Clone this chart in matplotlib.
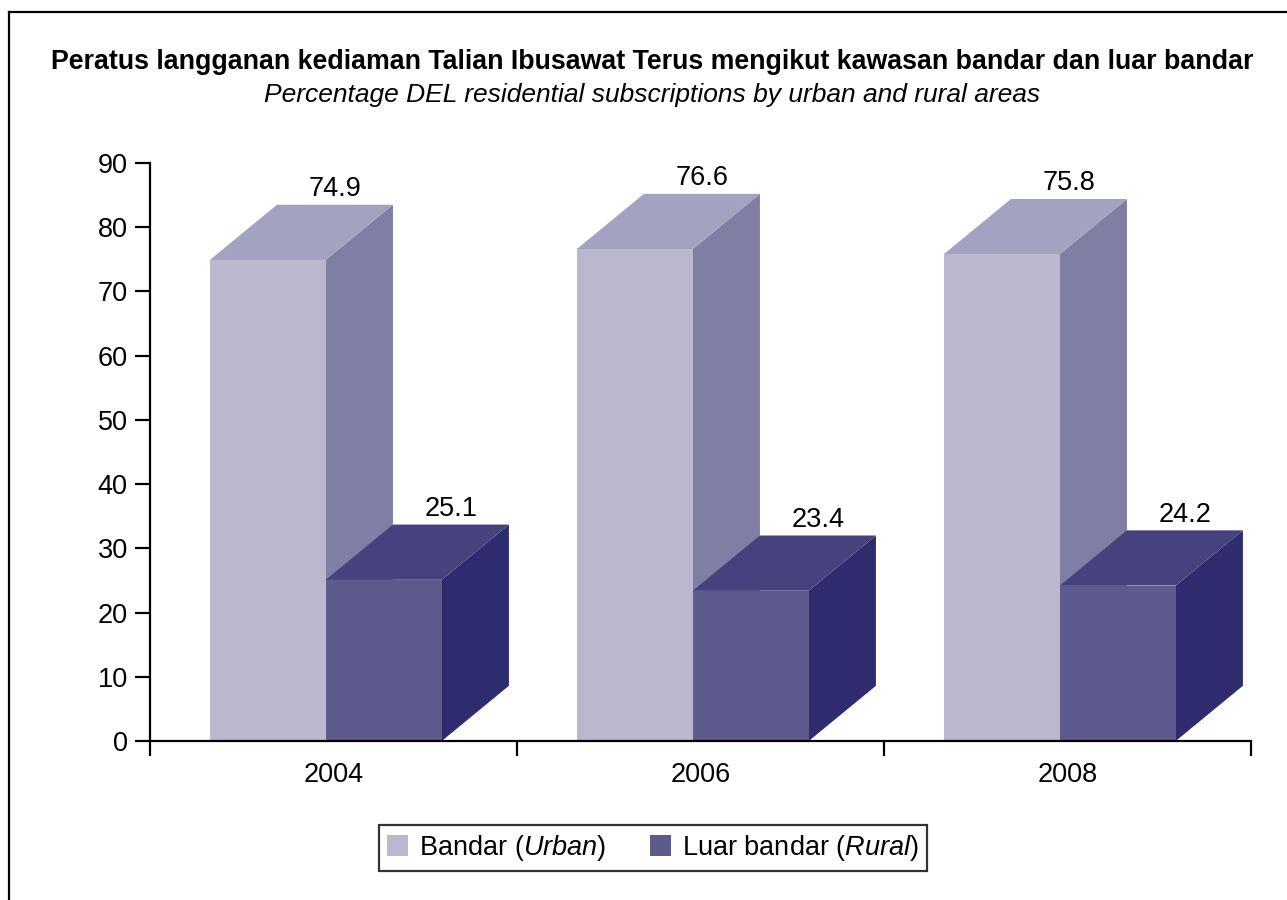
import matplotlib as mpl
mpl.use('Agg')
import matplotlib.pyplot as plt
from matplotlib.lines import Line2D
from matplotlib.patches import Patch

plt.rcParams['font.family'] = ['Liberation Sans', 'DejaVu Sans']
plt.rcParams['mathtext.fontset'] = 'custom'
plt.rcParams['mathtext.it'] = 'Liberation Sans:italic'
plt.rcParams['mathtext.rm'] = 'Liberation Sans'

years = ['2004', '2006', '2008']
urban = [74.9, 76.6, 75.8]
rural = [25.1, 23.4, 24.2]
yticks = [0, 10, 20, 30, 40, 50, 60, 70, 80, 90]

# colours: front, top, side
urban_cols = ('#b9b8cf', '#a3a2c1', '#7f7ea5')
rural_cols = ('#5d5a8e', '#45427d', '#2e2b6e')

FS = 19.5
W, H = 1287, 900
fig = plt.figure(figsize=(W / 100, H / 100), dpi=100)
ax = fig.add_axes([150 / W, 1 - 741 / H, (1251 - 150) / W, 578 / H])

bar_w = 0.316
dx = 0.183   # depth in category units
dy = 8.6     # depth in value units


def draw_bar(x0, v, cols):
    front, top, side = cols
    x1 = x0 + bar_w
    ax.fill([x1, x1 + dx, x1 + dx, x1], [0, dy, v + dy, v], color=side, lw=0, clip_on=False)
    ax.fill([x0, x0 + dx, x1 + dx, x1], [v, v + dy, v + dy, v], color=top, lw=0, clip_on=False)
    ax.fill([x0, x1, x1, x0], [0, 0, v, v], color=front, lw=0, clip_on=False)
    ax.annotate(f'{v}', (x0 + bar_w / 2 + dx, v + dy), xytext=(0, 2),
                textcoords='offset points', ha='center', va='bottom', fontsize=FS)


for i in range(len(years)):
    start = i + 0.163
    draw_bar(start, urban[i], urban_cols)
    draw_bar(start + bar_w, rural[i], rural_cols)

ax.set_xlim(0, 3)
ax.set_ylim(0, 90)
ax.set_xticks([0, 1, 2, 3])
ax.set_xticklabels([])
ax.set_xticks([0.5, 1.5, 2.5], minor=True)
ax.set_xticklabels(years, minor=True)
ax.tick_params(axis='x', which='major', direction='out', length=10.5, width=1.6)
ax.tick_params(axis='x', which='minor', length=0, pad=15, labelsize=FS)
ax.set_yticks(yticks)
ax.tick_params(axis='y', direction='out', length=11, width=1.6, pad=5, labelsize=FS)
ax.spines['top'].set_visible(False)
ax.spines['right'].set_visible(False)
ax.spines['left'].set_linewidth(1.6)
ax.spines['bottom'].set_linewidth(1.6)
ax.patch.set_visible(False)

fig.text(652 / W, 1 - 62 / H,
         'Peratus langganan kediaman Talian Ibusawat Terus mengikut kawasan bandar dan luar bandar',
         ha='center', va='center', fontsize=19.3, fontweight='bold')
fig.text(652 / W, 1 - 95 / H,
         'Percentage DEL residential subscriptions by urban and rural areas',
         ha='center', va='center', fontsize=19, style='italic')

handles = [Patch(facecolor=urban_cols[0], edgecolor='none'),
           Patch(facecolor=rural_cols[0], edgecolor='none')]
labels = [r'Bandar ($\mathit{Urban}$)', r'Luar bandar $\mathit{(Rural}$)']
leg = fig.legend(handles, labels, loc='center', bbox_to_anchor=(653 / W, 1 - 848 / H),
                 ncol=2, fontsize=FS, frameon=True, fancybox=False, edgecolor='black',
                 handlelength=0.8, handleheight=0.8, handletextpad=0.4, columnspacing=1.6,
                 borderpad=0.3, borderaxespad=0)
leg.get_frame().set_linewidth(1.6)

fig.add_artist(Line2D([8.5 / W, 8.5 / W], [0, 1 - 11.5 / H], color='black', lw=1.6))
fig.add_artist(Line2D([8.5 / W, 1], [1 - 11.5 / H, 1 - 11.5 / H], color='black', lw=1.6))

fig.savefig('out.png', dpi=100)
